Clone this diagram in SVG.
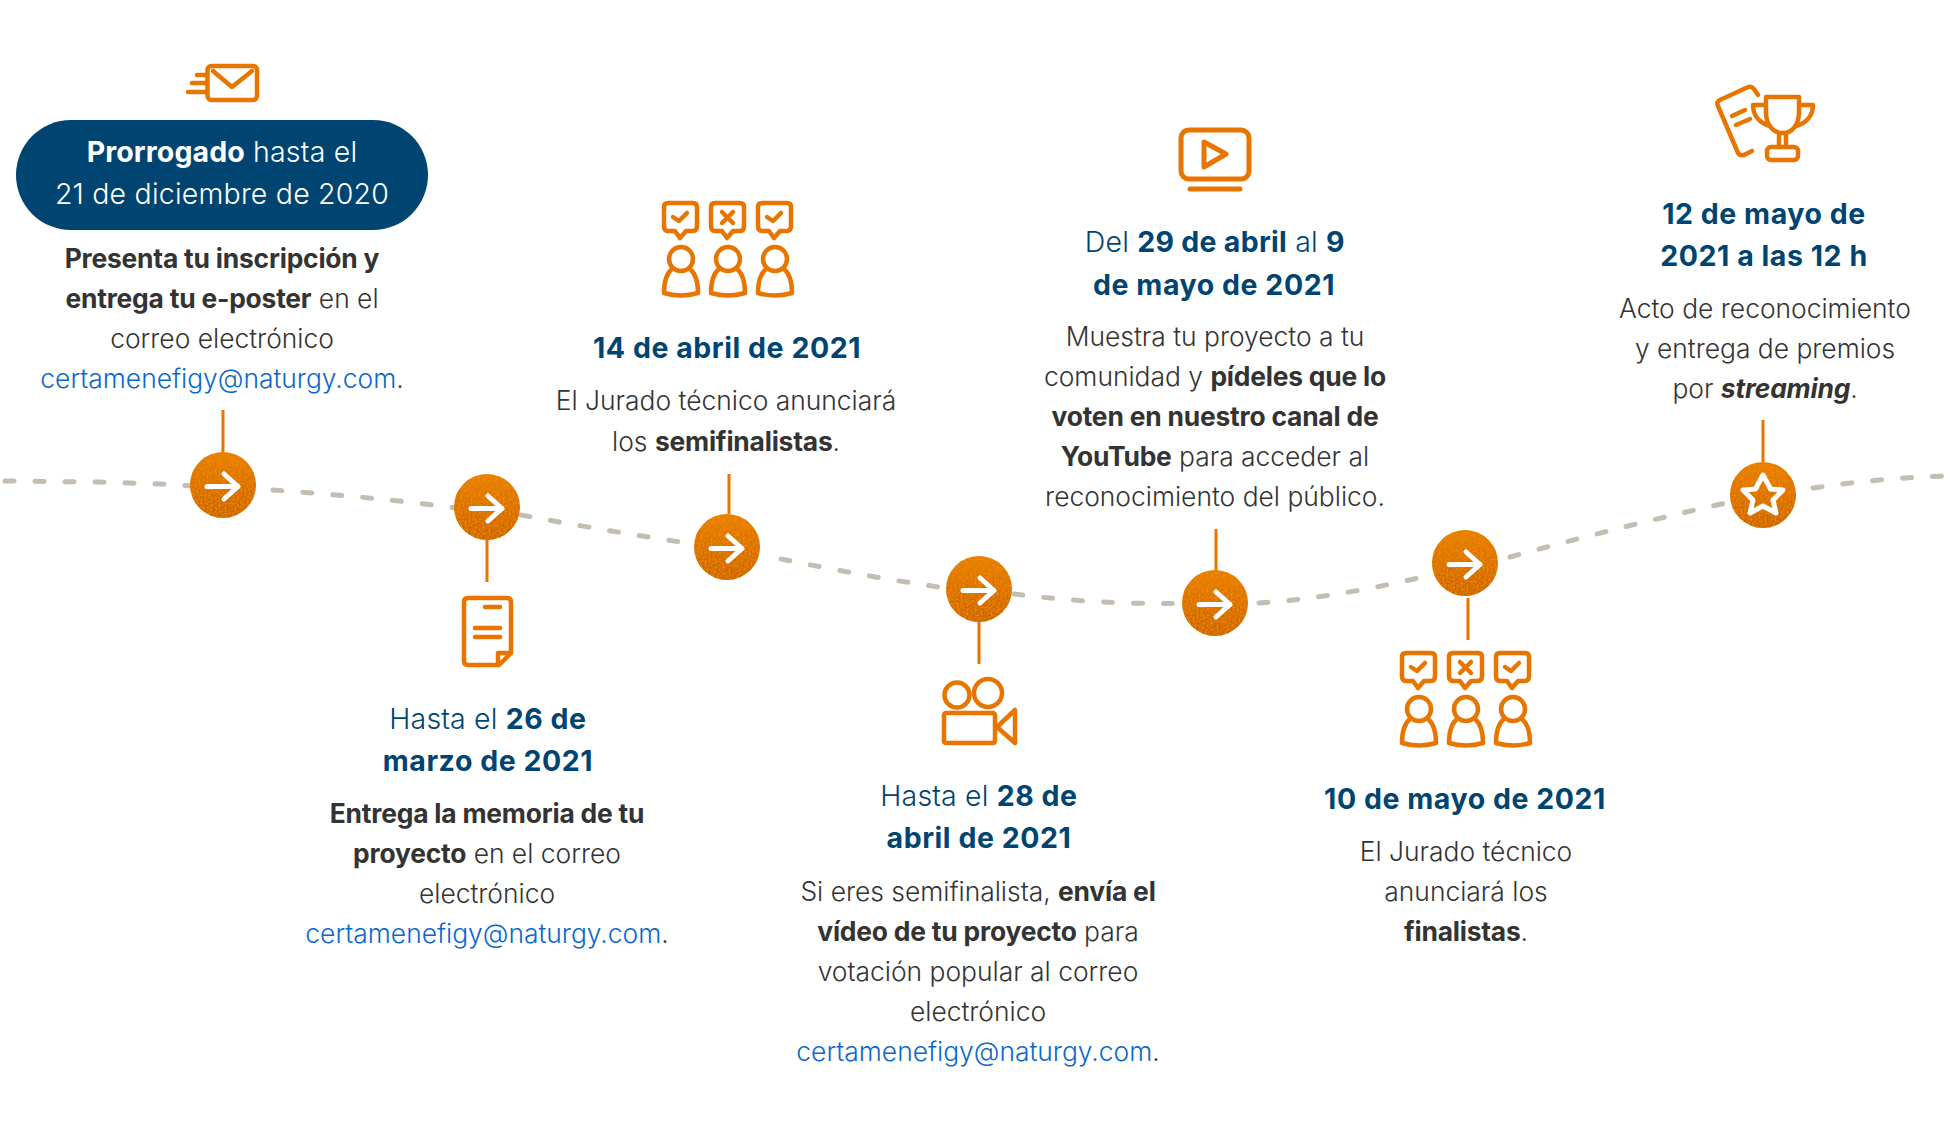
<svg xmlns="http://www.w3.org/2000/svg" xmlns:xlink="http://www.w3.org/1999/xlink" width="1954" height="1144" viewBox="0 0 1954 1144">
<style>
text{font-family:"Inter","Noto Sans",sans-serif;font-size:26.4px;text-anchor:middle;fill:#333;font-weight:300}
.b{font-weight:700;letter-spacing:-.2px}
.h{fill:#004571;font-size:28.5px;letter-spacing:.15px}
.h .b,.h.b{letter-spacing:.55px}
.w{fill:#fff;font-size:28.5px;letter-spacing:.2px}
.w .b{letter-spacing:.1px}
.l{fill:#0a68cc}
.ic{fill:none;stroke:#e87500;stroke-width:4.5;stroke-linecap:round;stroke-linejoin:round}
.st{stroke:#e87500;stroke-width:3;fill:none}
.ds{fill:none;stroke:#c4bdb2;stroke-width:5;stroke-linecap:round;stroke-dasharray:9 21}
.ar{fill:none;stroke:#fff;stroke-width:5;stroke-linecap:round;stroke-linejoin:round}
</style>
<defs>
<linearGradient id="g" x1="0" y1="0" x2="0" y2="1"><stop offset="0" stop-color="#ef7a00"/><stop offset="1" stop-color="#d05800"/></linearGradient>
<filter id="n" x="0" y="0" width="1" height="1"><feTurbulence type="fractalNoise" baseFrequency="0.5" numOctaves="2" seed="4" result="t"/><feColorMatrix in="t" type="matrix" values="0 0 0 0 0.75  0 0 0 0 0.3  0 0 0 0 0  0 0 0 2 -0.7" result="c"/><feComposite in="c" in2="SourceAlpha" operator="in" result="s"/><feMerge><feMergeNode in="SourceGraphic"/><feMergeNode in="s"/></feMerge></filter>
<g id="ball"><circle r="33" fill="url(#g)" filter="url(#n)"/></g>
<g id="arrow"><use href="#ball"/><path class="ar" d="M-16,1.5H15M1,-11L15,1.5L1,14"/></g>
<g id="people" class="ic">
<g id="p1"><path d="M668,203H693Q697,203 697,207V226Q697,231 693,231H686L680,238L675,231H668Q664,231 664,226V207Q664,203 668,203Z"/><circle cx="681" cy="259" r="12"/><path d="M672,269C667,273 664,281 664,293Q681,298 698,293C698,281 695,273 690,269"/></g>
<path d="M673,217L679,221L687,213"/>
<use href="#p1" x="47"/><path d="M722,212L733,223M733,212L722,223"/>
<use href="#p1" x="94"/><path d="M767,217L773,221L781,213"/>
</g>
</defs>
<g id="connectors">
<path class="ds" d="M5,481L100,482L160,484L195,486"/>
<path class="ds" d="M273,490C330,494 400,500 470,510"/>
<path class="ds" d="M521,515C580,526 640,536 700,545"/>
<path class="ds" d="M781,559C840,571 900,582 960,590"/>
<path class="ds" d="M1014,594C1070,601 1130,605 1195,603"/>
<path class="ds" d="M1259,603C1320,599 1390,586 1450,570"/>
<path class="ds" d="M1510,557C1590,535 1670,515 1740,500"/>
<path class="ds" d="M1813,488C1860,481 1905,477 1950,476"/>
<path class="st" d="M223,410V452M487,540V582M729,474V514M979,620V664M1216,529V572M1468,598V640M1763,420V462"/>
</g>
<g id="node1">
<g class="ic"><rect x="207.500" y="66" width="49.500" height="34" rx="4"/><path d="M213,71L232,87L252,71M197,75H207M192,83H207M188,92H207"/></g>
<rect x="16" y="120" width="412" height="110" rx="55" fill="#004571"/>
<text class="w" x="222" y="162"><tspan class="b">Prorrogado</tspan> hasta el</text>
<text class="w" x="222" y="204">21 de diciembre de 2020</text>
<text x="222" y="268"><tspan class="b">Presenta tu inscripción y</tspan></text>
<text x="222" y="308"><tspan class="b">entrega tu e-poster</tspan> en el</text>
<text x="222" y="348">correo electrónico</text>
<text x="222" y="388"><tspan class="l">certamenefigy@naturgy.com</tspan>.</text>
<use href="#arrow" x="223" y="485"/>
</g>
<g id="node2">
<use href="#arrow" x="487" y="507"/>
<g class="ic"><path d="M468,598H507Q511,598 511,602V653L499,665H468Q464,665 464,661V602Q464,598 468,598ZM485,607H500M475,628H500M475,637H500M511,653H498V665"/></g>
<text class="h" x="488" y="729">Hasta el <tspan class="b">26 de</tspan></text>
<text class="h b" x="488" y="771">marzo de 2021</text>
<text x="487" y="823"><tspan class="b">Entrega la memoria de tu</tspan></text>
<text x="487" y="863"><tspan class="b">proyecto</tspan> en el correo</text>
<text x="487" y="903">electrónico</text>
<text x="487" y="943"><tspan class="l">certamenefigy@naturgy.com</tspan>.</text>
</g>
<g id="node3">
<use href="#people"/>
<text class="h b" x="727" y="358">14 de abril de 2021</text>
<text x="726" y="410">El Jurado técnico anunciará</text>
<text x="726" y="451">los <tspan class="b">semifinalistas</tspan>.</text>
<use href="#arrow" x="727" y="547"/>
</g>
<g id="node4">
<use href="#arrow" x="979" y="589"/>
<g class="ic"><circle cx="957" cy="695" r="12.5"/><circle cx="988" cy="693" r="14"/><rect x="944" y="713" width="51" height="30" rx="2"/><path d="M1015,710V743L997,727Z"/></g>
<text class="h" x="979" y="806">Hasta el <tspan class="b">28 de</tspan></text>
<text class="h b" x="979" y="848">abril de 2021</text>
<text x="978" y="901">Si eres semifinalista, <tspan class="b">envía el</tspan></text>
<text x="978" y="941"><tspan class="b">vídeo de tu proyecto</tspan> para</text>
<text x="978" y="981">votación popular al correo</text>
<text x="978" y="1021">electrónico</text>
<text x="978" y="1061"><tspan class="l">certamenefigy@naturgy.com</tspan>.</text>
</g>
<g id="node5">
<g class="ic" style="stroke-width:5"><rect x="1181" y="130" width="68" height="49" rx="8"/><path d="M1190,189H1240M1204,142V167L1226,154Z"/></g>
<text class="h" x="1215" y="252">Del <tspan class="b" style="letter-spacing:.3px">29 de abril</tspan> al <tspan class="b">9</tspan></text>
<text class="h b" x="1214" y="295">de mayo de 2021</text>
<text x="1215" y="346">Muestra tu proyecto a tu</text>
<text x="1215" y="386">comunidad y <tspan class="b">pídeles que lo</tspan></text>
<text x="1215" y="426"><tspan class="b">voten en nuestro canal de</tspan></text>
<text x="1215" y="466"><tspan class="b">YouTube</tspan> para acceder al</text>
<text x="1215" y="506">reconocimiento del público.</text>
<use href="#arrow" x="1215" y="603"/>
</g>
<g id="node6">
<use href="#arrow" x="1465" y="563"/>
<use href="#people" x="738" y="450"/>
<text class="h b" x="1465" y="809">10 de mayo de 2021</text>
<text x="1466" y="861">El Jurado técnico</text>
<text x="1466" y="901">anunciará los</text>
<text x="1466" y="941"><tspan class="b">finalistas</tspan>.</text>
</g>
<g id="node7">
<g class="ic"><path d="M1758,95L1754,89Q1751,85 1746,88L1720,100Q1716,102 1718,106L1738,153Q1740,156 1744,155L1752,151M1732,116L1745,110M1736,125L1750,119"/><path d="M1766,97H1799V112C1799,125 1792,133 1783,133C1773,133 1766,125 1766,112ZM1766,105H1753C1753,116 1760,123 1770,126M1799,105H1813C1813,116 1806,123 1796,126M1779,133V147M1786,133V147"/><rect x="1767" y="147" width="31" height="13" rx="4"/></g>
<text class="h b" x="1764" y="224">12 de mayo de</text>
<text class="h b" x="1764" y="266">2021 a las 12 h</text>
<text x="1765" y="318">Acto de reconocimiento</text>
<text x="1765" y="358">y entrega de premios</text>
<text x="1765" y="398">por <tspan class="b" font-style="italic">streaming</tspan>.</text>
<use href="#ball" x="1763" y="495"/>
<path class="ar" transform="translate(1763,495)" d="M0,-20L7.5,-6L20,-5L10,5L13,18L0,11L-13,18L-10,5L-20,-5L-7.5,-6Z"/>
</g>
</svg>
